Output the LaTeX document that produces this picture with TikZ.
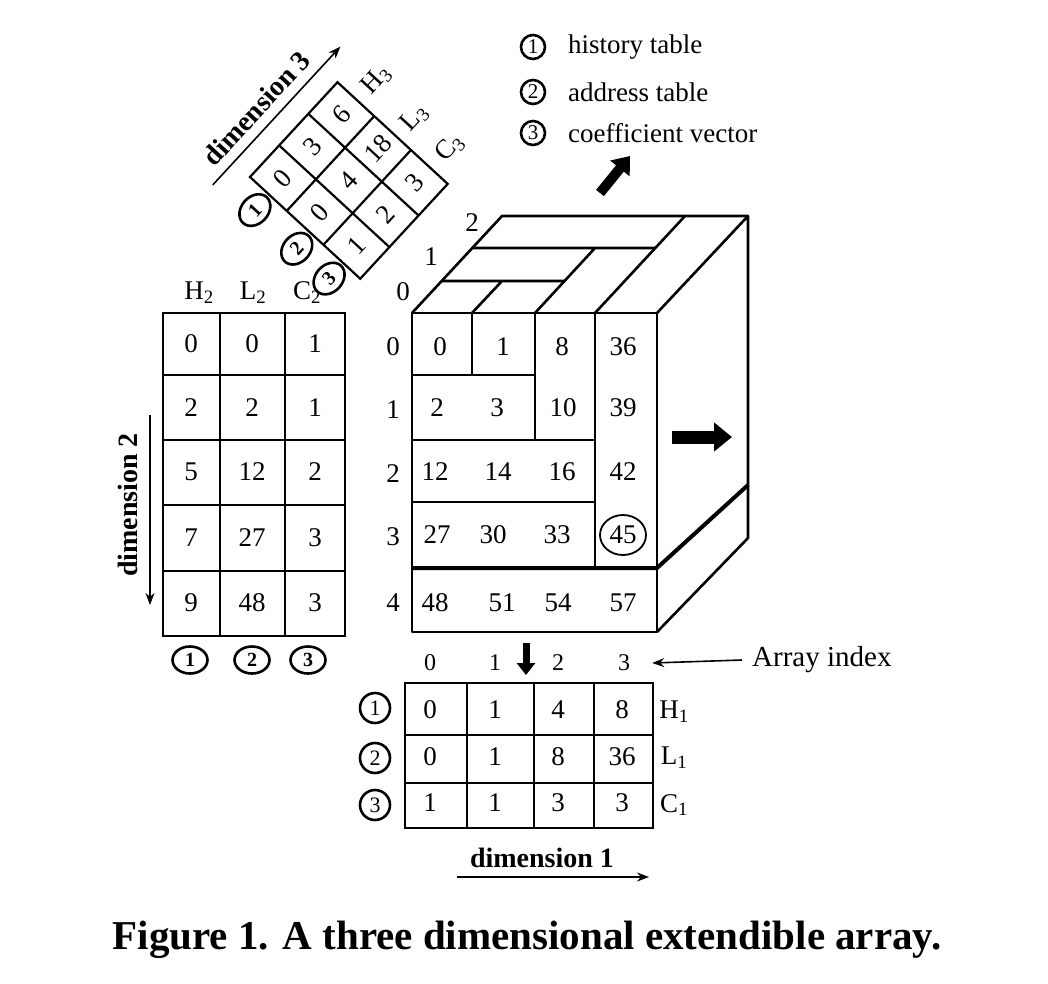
\documentclass[tikz,border=0pt]{standalone}
\usepackage{fontspec}
\setmainfont{Liberation Serif}
\usetikzlibrary{arrows.meta,shapes.geometric}

\begin{document}
\begin{tikzpicture}[x=1pt, y=-1pt, >=Stealth,
  cubeline/.style={line width=2.6pt, line join=round},
  gridline/.style={line width=2.2pt},
  num/.style={inner sep=0pt, font=\fontsize{27}{27}\selectfont},
  dimlabel/.style={inner sep=0pt, font=\fontsize{28}{28}\selectfont\bfseries},
  ring/.style={draw, circle, line width=2.6pt, minimum size=#1, inner sep=0pt, font=\fontsize{22}{22}\selectfont},
  ring/.default=30pt,
  oval/.style={draw, ellipse, line width=2.6pt, minimum width=35pt, minimum height=27pt, inner sep=0pt, font=\fontsize{20}{20}\selectfont\bfseries},
  thinarrow/.style={line width=1.6pt, -{Stealth[length=12pt, width=9pt]}}]
\useasboundingbox (0,0) rectangle (1048,983);

% Legend
\foreach \y/\t [count=\i] in {47/history table, 92/address table, 133/coefficient vector} {
  \node[ring=24pt, font=\fontsize{21}{21}\selectfont] (key\i) at (533,\y) {\i};
  \node[num, anchor=west, font=\fontsize{27}{27}\selectfont] (keytxt\i) at (568,\y) {\t};
}

% Front face
\draw[cubeline] (412,313) rectangle (657,632);
\draw[cubeline] (472,313) -- (472,375);
\draw[cubeline] (412,375) -- (535,375);
\draw[cubeline] (535,313) -- (535,440);
\draw[cubeline] (412,440) -- (595,440) (412,502) -- (595,502);
\draw[cubeline] (595,313) -- (595,568);
\draw[line width=4pt] (412,568) -- (657,568) -- (748,485);

% Right face and top face
\draw[cubeline] (657,313) -- (748,216) -- (748,538) -- (657,632);
\draw[cubeline] (412,313) -- (502,216) -- (748,216);
\draw[cubeline] (472,313) -- (502,281) (442,281) -- (565,281);
\draw[cubeline] (535,313) -- (595,248) (472,248) -- (655,248);
\draw[cubeline] (595,313) -- (685,216);

% Growth arrows
\coordinate (upA) at (600,193); \coordinate (upB) at (630,156);
\draw[line width=10pt, -{Triangle[length=16pt, width=24pt]}] (upA) -- (upB);
\coordinate (rtA) at (672,437); \coordinate (rtB) at (732,437);
\draw[line width=13pt, -{Triangle[length=18pt, width=28pt]}] (rtA) -- (rtB);

% Front face values
\foreach \v/\x [count=\i] in {0/440,1/503,8/562,36/623}
  \node[num] (fa\i) at (\x,347) {\v};
\foreach \v/\x [count=\i] in {2/437,3/497,10/563,39/623}
  \node[num] (fb\i) at (\x,408) {\v};
\foreach \v/\x [count=\i] in {12/435,14/498,16/562,42/623}
  \node[num] (fc\i) at (\x,472) {\v};
\foreach \v/\x [count=\i] in {27/437,30/493,33/557}
  \node[num] (fd\i) at (\x,535) {\v};
\node[num, draw, ellipse, line width=1.8pt, minimum width=46pt, minimum height=40pt] (fd4) at (623,535) {45};
\foreach \v/\x [count=\i] in {48/435,51/502,54/558,57/623}
  \node[num] (fe\i) at (\x,603) {\v};

% Index labels of the cube
\foreach \y [count=\i from 0] in {347,410,474,537,603}
  \node[num] (row\i) at (393,\y) {\i};
\foreach \x/\y [count=\i from 0] in {403/292,431/257,472/223}
  \node[num] (dep\i) at (\x,\y) {\i};

% Dimension 2 table
\draw[gridline] (163,313) rectangle (345,636);
\foreach \x in {220,285} \draw[gridline] (\x,313) -- (\x,636);
\foreach \y in {375,440,505,571} \draw[gridline] (163,\y) -- (345,\y);
\node[num] (h2) at (199,293) {H\textsubscript{2}};
\node[num] (l2) at (253,293) {L\textsubscript{2}};
\node[num] (c2) at (307,293) {C\textsubscript{2}};
\foreach \v/\y [count=\i] in {0/344,2/408,5/472,7/538,9/603}
  \node[num] (lh\i) at (191,\y) {\v};
\foreach \v/\y [count=\i] in {0/344,2/408,12/472,27/538,48/603}
  \node[num] (ll\i) at (252,\y) {\v};
\foreach \v/\y [count=\i] in {1/344,1/408,2/472,3/538,3/603}
  \node[num] (lc\i) at (315,\y) {\v};
\foreach \x [count=\i] in {190,252,308}
  \node[oval] (lo\i) at (\x,660) {\i};
\node[dimlabel, rotate=90] (dim2) at (128,505) {dimension 2};
\coordinate (d2a) at (150,415); \coordinate (d2b) at (150,605);
\draw[thinarrow] (d2a) -- (d2b);

% Dimension 3 table
\begin{scope}[shift={(250,177)}, rotate=47.3]
  \draw[gridline] (0,0) rectangle (129,150);
  \foreach \x in {43,86} \draw[gridline] (\x,0) -- (\x,150);
  \foreach \y in {50,100} \draw[gridline] (0,\y) -- (129,\y);
  \foreach \v/\x [count=\i] in {0/21.5,3/64.5,6/107.5}
    \node[num, transform shape] (th\i) at (\x,25) {\v};
  \foreach \v/\x [count=\i] in {0/21.5,4/64.5,18/107.5}
    \node[num, transform shape] (tl\i) at (\x,75) {\v};
  \foreach \v/\x [count=\i] in {1/21.5,2/64.5,3/107.5}
    \node[num, transform shape] (tc\i) at (\x,125) {\v};
  \node[num, transform shape] (h3) at (157,27) {H\textsubscript{3}};
  \node[num, transform shape] (l3) at (155,81) {L\textsubscript{3}};
  \node[num, transform shape] (c3) at (157,127) {C\textsubscript{3}};
  \foreach \y [count=\i] in {26,83,127}
    \node[oval, transform shape] (to\i) at (-21,\y) {\i};
  \node[dimlabel, transform shape] (dim3) at (55,-42) {dimension 3};
  \coordinate (d3a) at (-31,-22); \coordinate (d3b) at (157,-22);
  \draw[thinarrow] (d3a) -- (d3b);
\end{scope}

% Dimension 1 table
\draw[gridline] (405,683) rectangle (653,828);
\foreach \x in {467,534,594} \draw[gridline] (\x,683) -- (\x,828);
\foreach \y in {735,783} \draw[gridline] (405,\y) -- (653,\y);
\foreach \x [count=\i from 0] in {430,495,558,624}
  \node[num, font=\fontsize{24}{24}\selectfont] (ix\i) at (\x,663) {\i};
\foreach \v/\x [count=\i] in {0/430,1/495,4/558,8/622}
  \node[num] (bh\i) at (\x,710) {\v};
\foreach \v/\x [count=\i] in {0/430,1/495,8/558,36/622}
  \node[num] (bl\i) at (\x,757) {\v};
\foreach \v/\x [count=\i] in {1/430,1/495,3/558,3/622}
  \node[num] (bc\i) at (\x,803) {\v};
\node[num] (h1) at (674,712) {H\textsubscript{1}};
\node[num] (l1) at (674,758) {L\textsubscript{1}};
\node[num] (c1) at (674,805) {C\textsubscript{1}};
\foreach \y [count=\i] in {708,758,805}
  \node[ring] (bo\i) at (375,\y) {\i};
\coordinate (dnA) at (526,643); \coordinate (dnB) at (526,675);
\draw[line width=7pt, -{Triangle[length=12pt, width=18pt]}] (dnA) -- (dnB);
\node[num, anchor=west, font=\fontsize{29}{29}\selectfont] (arr) at (752,660) {Array index};
\draw[thinarrow] ([xshift=-10pt]arr.west) -- ([xshift=22pt]ix3.east);
\node[dimlabel] (dim1) at (542,858) {dimension 1};
\coordinate (d1a) at (457,877); \coordinate (d1b) at (649,877);
\draw[thinarrow] (d1a) -- (d1b);

% Caption
\node[inner sep=0pt, font=\fontsize{41}{41}\selectfont\bfseries] (caption) at (527,940)
  {Figure 1. A three dimensional extendible array.};
\end{tikzpicture}
\end{document}
